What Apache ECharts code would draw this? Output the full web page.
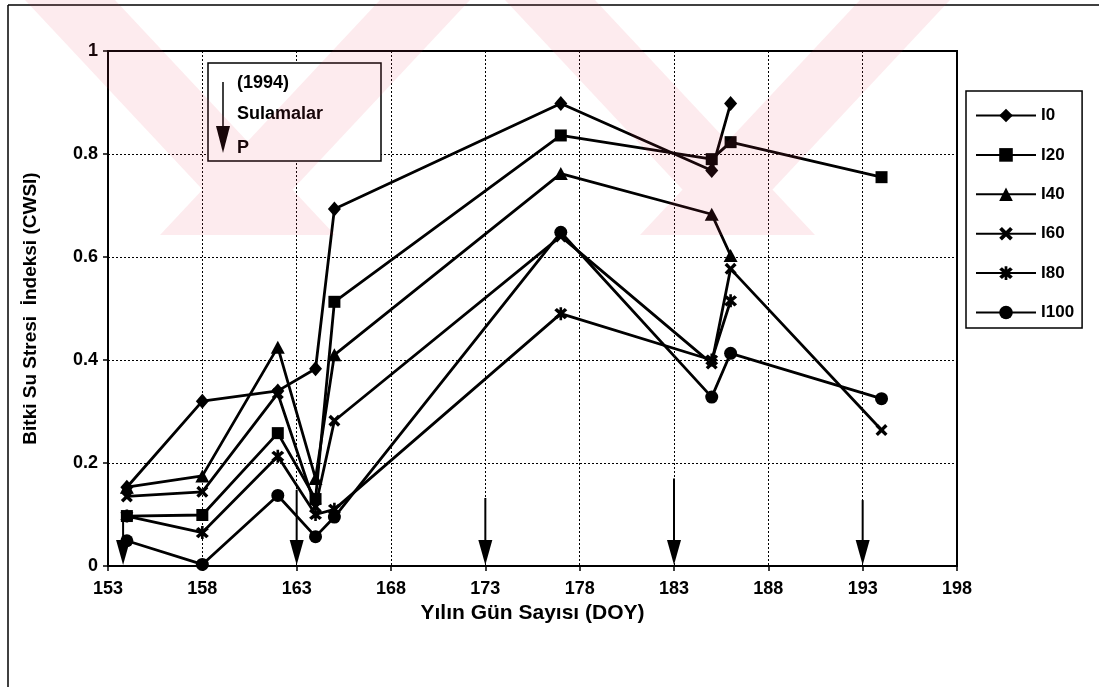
<!DOCTYPE html>
<html>
<head>
<meta charset="utf-8">
<script src="https://cdn.jsdelivr.net/npm/echarts@6/dist/echarts.min.js"></script>
<style>
  html, body { margin: 0; padding: 0; background: #ffffff; }
  #chart { width: 1099px; height: 687px; }
</style>
</head>
<body>
<div id="chart"></div>
<script>
// Day of year of each CWSI measurement
const days = [154, 158, 162, 164, 165, 177, 185, 186, 194];

// Crop water stress index per irrigation treatment (null = not measured)
const I0   = [0.153, 0.320, 0.340, 0.383, 0.693, 0.898, 0.768, 0.898, null];
const I20  = [0.097, 0.099, 0.258, 0.130, 0.513, 0.836, 0.790, 0.823, 0.755];
const I40  = [0.153, 0.175, 0.425, 0.170, 0.410, 0.762, 0.683, 0.603, null];
const I60  = [0.135, 0.144, 0.335, 0.115, 0.282, 0.640, 0.393, 0.577, 0.264];
const I80  = [0.097, 0.065, 0.213, 0.100, 0.110, 0.490, 0.400, 0.515, null];
const I100 = [0.049, 0.003, 0.137, 0.057, 0.095, 0.648, 0.328, 0.413, 0.325];

const treatmentNames = ['I0', 'I20', 'I40', 'I60', 'I80', 'I100'];
const treatmentValues = [I0, I20, I40, I60, I80, I100];

// Irrigation dates (1994) and where each arrow starts
const irrigationDays = [153.8, 163, 173, 183, 193];
const irrigationArrowTop = [0.093, 0.148, 0.132, 0.170, 0.128];

// Axis ranges
const xMin = 153, xMax = 198, xStep = 5;
const yMin = 0, yMax = 1, yStep = 0.2;

const FONT = "'Liberation Sans', Arial, sans-serif";

// Marker shapes
const X_PATH = 'M0,2L2,0L5,3L8,0L10,2L7,5L10,8L8,10L5,7L2,10L0,8L3,5Z';
const SYM_X = 'path://' + X_PATH;
const SYM_STAR = 'path://' + X_PATH + 'M4,-0.8L6,-0.8L6,10.8L4,10.8Z';
const symbols = ['diamond', 'rect', 'triangle', SYM_X, SYM_STAR, 'circle'];
const symbolSizes = [[13, 15], 12, [14, 13], 12, 13, 13];

const series = treatmentNames.map(function (name, k) {
  const vals = treatmentValues[k];
  const data = [];
  for (let i = 0; i < days.length; i++) {
    if (vals[i] !== null) data.push([days[i], vals[i]]);
  }
  return {
    name: name,
    type: 'line',
    data: data,
    symbol: symbols[k],
    symbolSize: symbolSizes[k],
    showAllSymbol: true,
    lineStyle: { color: '#000', width: 2.8 },
    itemStyle: { color: '#000', borderColor: '#000', borderWidth: 0 },
    emphasis: { disabled: true },
    animation: false,
    z: 3
  };
});

// Irrigation arrows drawn in data coordinates
series.push({
  name: 'sulama',
  type: 'custom',
  silent: true,
  animation: false,
  z: 4,
  data: irrigationDays.map(function (d, i) { return [d, irrigationArrowTop[i]]; }),
  renderItem: function (params, api) {
    const top = api.coord([api.value(0), api.value(1)]);
    const tip = api.coord([api.value(0), 0]);
    const headLen = 26, headHalf = 7;
    return {
      type: 'group',
      children: [
        { type: 'line', shape: { x1: top[0], y1: top[1], x2: tip[0], y2: tip[1] - headLen + 2 },
          style: { stroke: '#000', lineWidth: 2 } },
        { type: 'polygon', shape: { points: [[tip[0] - headHalf, tip[1] - headLen], [tip[0] + headHalf, tip[1] - headLen], [tip[0], tip[1] - 1]] },
          style: { fill: '#000' } }
      ]
    };
  }
});

// Light diagonal watermark bands across the top of the page, merged into one path
const wmTop = 0, wmBottom = 235;
const wmBands = [
  [25, 115, 245, 335],
  [380, 470, 160, 250],
  [505, 595, 725, 815],
  [860, 950, 640, 730]
];
let wmPath = '';
let wmMinX = Infinity, wmMaxX = -Infinity;
wmBands.forEach(function (b) {
  wmPath += 'M' + b[0] + ',' + wmTop + 'L' + b[1] + ',' + wmTop + 'L' + b[3] + ',' + wmBottom + 'L' + b[2] + ',' + wmBottom + 'Z';
  wmMinX = Math.min(wmMinX, b[0], b[2]);
  wmMaxX = Math.max(wmMaxX, b[1], b[3]);
});
series.push({
  name: 'watermark',
  type: 'custom',
  silent: true,
  animation: false,
  clip: false,
  z: 50,
  data: [[xMin, yMin]],
  renderItem: function () {
    return {
      type: 'path',
      shape: { pathData: wmPath, layout: 'cover', x: wmMinX, y: wmTop, width: wmMaxX - wmMinX, height: wmBottom - wmTop },
      style: { fill: 'rgba(235,60,90,0.10)' }
    };
  }
});

const chart = echarts.init(document.getElementById('chart'), null, { renderer: 'canvas' });
chart.setOption({
  backgroundColor: '#ffffff',
  animation: false,
  textStyle: { fontFamily: FONT },
  grid: {
    left: 108, right: 142, top: 51, bottom: 121,
    show: true, borderColor: '#000', borderWidth: 2, backgroundColor: 'transparent'
  },
  xAxis: {
    type: 'value',
    min: xMin, max: xMax, interval: xStep,
    name: 'Yılın Gün Sayısı (DOY)',
    nameLocation: 'middle',
    nameGap: 34,
    nameTextStyle: { color: '#000', fontSize: 21, fontWeight: 'bold', fontFamily: FONT },
    axisLine: { onZero: false, lineStyle: { color: '#000', width: 2 } },
    axisTick: { show: true, length: 5, inside: false, lineStyle: { color: '#000', width: 1.5 } },
    axisLabel: { color: '#000', fontSize: 18, fontWeight: 'bold', margin: 14, fontFamily: FONT },
    splitLine: { show: true, lineStyle: { color: '#000', width: 1, type: [2, 2] } }
  },
  yAxis: {
    type: 'value',
    min: yMin, max: yMax, interval: yStep,
    name: 'Bitki Su Stresi  İndeksi (CWSI)',
    nameLocation: 'middle',
    nameGap: 68,
    nameRotate: 90,
    nameTextStyle: { color: '#000', fontSize: 19, fontWeight: 'bold', fontFamily: FONT },
    axisLine: { show: true, lineStyle: { color: '#000', width: 2 } },
    axisTick: { show: true, length: 5, inside: false, lineStyle: { color: '#000', width: 1.5 } },
    axisLabel: { color: '#000', fontSize: 18, fontWeight: 'bold', margin: 10, fontFamily: FONT },
    splitLine: { show: true, lineStyle: { color: '#000', width: 1, type: [2, 2] } }
  },
  legend: {
    data: treatmentNames,
    orient: 'vertical',
    left: 966, top: 91,
    padding: [16, 8, 7, 9],
    itemWidth: 60, itemHeight: 17, itemGap: 22.4,
    borderColor: '#000', borderWidth: 1.5,
    backgroundColor: '#fff',
    selectedMode: false,
    lineStyle: { width: 2 },
    textStyle: { color: '#000', fontSize: 17, fontWeight: 'bold', fontFamily: FONT }
  },
  graphic: [
    // outer page frame
    { type: 'line', silent: true, shape: { x1: 8, y1: 5, x2: 1099, y2: 5 }, style: { stroke: '#000', lineWidth: 1.5 } },
    { type: 'line', silent: true, shape: { x1: 8, y1: 5, x2: 8, y2: 687 }, style: { stroke: '#000', lineWidth: 1.5 } },
    // irrigation note box
    { type: 'rect', silent: true, z: 10, shape: { x: 208, y: 63, width: 173, height: 98 },
      style: { fill: '#fff', stroke: '#000', lineWidth: 1.5 } },
    { type: 'line', silent: true, z: 11, shape: { x1: 223, y1: 82, x2: 223, y2: 130 }, style: { stroke: '#000', lineWidth: 1.5 } },
    { type: 'polygon', silent: true, z: 11, shape: { points: [[216, 126], [230, 126], [223, 153]] }, style: { fill: '#000' } },
    { type: 'text', silent: true, z: 11, style: { x: 237, y: 83, text: '(1994)', fill: '#000', font: "bold 18px " + FONT, verticalAlign: 'middle' } },
    { type: 'text', silent: true, z: 11, style: { x: 237, y: 114, text: 'Sulamalar', fill: '#000', font: "bold 18px " + FONT, verticalAlign: 'middle' } },
    { type: 'text', silent: true, z: 11, style: { x: 237, y: 148, text: 'P', fill: '#000', font: "bold 18px " + FONT, verticalAlign: 'middle' } }
  ],
  series: series
});
</script>
</body>
</html>
